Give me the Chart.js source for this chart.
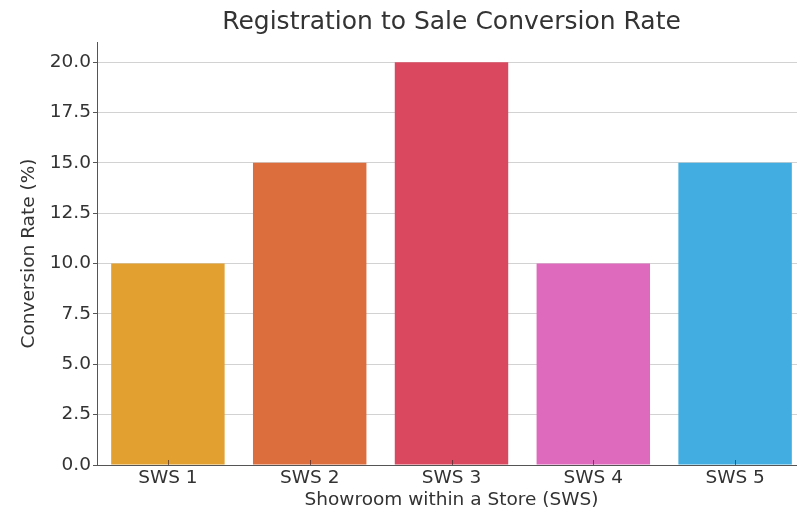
<!DOCTYPE html>
<html>
<head>
<meta charset="utf-8">
<script src="https://cdn.jsdelivr.net/npm/chart.js@4"></script>
<style>
  html, body { margin: 0; padding: 0; background: #fff; overflow: hidden; }
  #wrap { position: relative; width: 806px; height: 515px; }
</style>
</head>
<body>
<div id="wrap"><canvas id="conversion-chart"></canvas></div>
<script>
const showrooms = ["SWS 1", "SWS 2", "SWS 3", "SWS 4", "SWS 5"];
const conversionRates = [10, 15, 20, 10, 15];
const barColors = ["#e1a02f", "#dc6d3d", "#d9485f", "#de6abd", "#41ade0"];
const yTicks = [0, 2.5, 5, 7.5, 10, 12.5, 15, 17.5, 20];
const chartTitle = "Registration to Sale Conversion Rate";

const FONT = "'DejaVu Sans', sans-serif";
const TEXT = "#333333";

// title centred over the plot area rather than the whole canvas
const plotTitle = {
  id: "plotTitle",
  afterDraw(chart) {
    const { ctx, chartArea } = chart;
    ctx.save();
    ctx.font = "25px " + FONT;
    ctx.fillStyle = TEXT;
    ctx.textAlign = "center";
    ctx.textBaseline = "middle";
    ctx.fillText(chartTitle, (chartArea.left + chartArea.right) / 2, 22);
    ctx.restore();
  },
};

// short inward tick marks on the category axis, drawn over the bars
const innerTicks = {
  id: "innerTicks",
  afterDatasetsDraw(chart) {
    const { ctx, chartArea } = chart;
    const xScale = chart.scales.x;
    ctx.save();
    ctx.strokeStyle = "rgba(70, 40, 40, 0.7)";
    ctx.lineWidth = 1;
    showrooms.forEach((_, i) => {
      const x = Math.round(xScale.getPixelForValue(i)) + 0.5;
      ctx.beginPath();
      ctx.moveTo(x, chartArea.bottom - 5);
      ctx.lineTo(x, chartArea.bottom);
      ctx.stroke();
    });
    ctx.restore();
  },
};

const ctx = document.getElementById("conversion-chart").getContext("2d");
new Chart(ctx, {
  type: "bar",
  data: {
    labels: showrooms,
    datasets: [
      {
        data: conversionRates,
        backgroundColor: barColors,
        borderWidth: 0,
        categoryPercentage: 1.0,
        barPercentage: 0.8,
      },
    ],
  },
  plugins: [plotTitle, innerTicks],
  options: {
    responsive: true,
    maintainAspectRatio: false,
    animation: false,
    layout: { padding: { left: 0, right: 0, top: 42, bottom: 0 } },
    plugins: {
      legend: { display: false },
      tooltip: { enabled: false },
      title: { display: false },
    },
    scales: {
      x: {
        grid: { display: false, drawTicks: false, tickLength: 0 },
        border: { display: true, color: "#555555", width: 1 },
        ticks: { color: TEXT, font: { family: FONT, size: 18.5 }, padding: 2 },
        title: {
          display: true,
          text: "Showroom within a Store (SWS)",
          color: TEXT,
          font: { family: FONT, size: 18.5 },
          padding: { top: 0, bottom: 4 },
        },
        afterFit: (scale) => { scale.height = 50; },
      },
      y: {
        min: 0,
        max: 21,
        afterBuildTicks: (scale) => {
          scale.ticks = yTicks.map((v) => ({ value: v }));
        },
        grid: {
          color: "#d2d2d2",
          borderDash: [3, 3],
          tickColor: "#555555",
          tickBorderDash: [],
          tickLength: 4,
          drawTicks: true,
        },
        border: { display: true, color: "#555555", width: 1 },
        ticks: {
          color: TEXT,
          font: { family: FONT, size: 18.5 },
          padding: 2,
          callback: (v) => Number(v).toFixed(1),
        },
        title: {
          display: true,
          text: "Conversion Rate (%)",
          color: TEXT,
          font: { family: FONT, size: 18.5 },
          padding: { top: 18, bottom: 0 },
        },
        afterFit: (scale) => { scale.width = 97; },
      },
    },
  },
});
</script>
</body>
</html>
